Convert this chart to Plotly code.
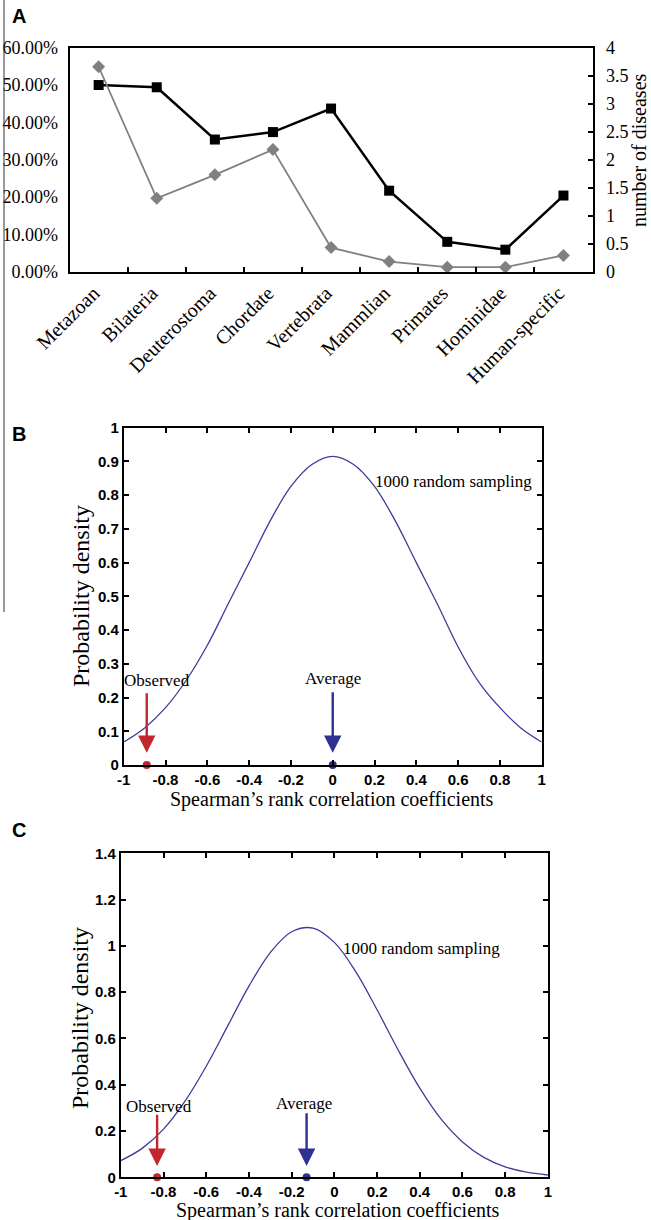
import plotly.graph_objects as go

W, H = 651, 1220

# ---------------- Panel A data ----------------
categories = ["Metazoan", "Bilateria", "Deuterostoma", "Chordate", "Vertebrata",
              "Mammlian", "Primates", "Hominidae", "Human-specific"]
pct_disease_genes = [0.500, 0.494, 0.354, 0.374, 0.437, 0.217, 0.080, 0.059, 0.204]
num_diseases = [3.66, 1.31, 1.73, 2.18, 0.43, 0.18, 0.08, 0.08, 0.29]
pct_ticks = [0, 0.1, 0.2, 0.3, 0.4, 0.5, 0.6]
num_ticks = [0, 0.5, 1, 1.5, 2, 2.5, 3, 3.5, 4]

# ---------------- Panel B / C data ----------------
rho_grid = [-1.0, -0.9, -0.8, -0.7, -0.6, -0.5, -0.4, -0.3, -0.2, -0.1, 0.0,
            0.1, 0.2, 0.3, 0.4, 0.5, 0.6, 0.7, 0.8, 0.9, 1.0]
density_B = [0.068, 0.110, 0.170, 0.252, 0.355, 0.478, 0.600, 0.723, 0.826, 0.891, 0.915,
             0.891, 0.826, 0.723, 0.600, 0.478, 0.350, 0.245, 0.170, 0.110, 0.068]
density_C = [0.072, 0.125, 0.208, 0.328, 0.480, 0.653, 0.826, 0.971, 1.061, 1.077, 1.015,
             0.889, 0.724, 0.548, 0.385, 0.251, 0.153, 0.086, 0.045, 0.022, 0.010]
observed_B, average_B = -0.89, 0.0
observed_C, average_C = -0.83, -0.13
rho_ticks = [-1, -0.8, -0.6, -0.4, -0.2, 0, 0.2, 0.4, 0.6, 0.8, 1]
rho_ticktext = ["-1", "-0.8", "-0.6", "-0.4", "-0.2", "0", "0.2", "0.4", "0.6", "0.8", "1"]
dens_ticks_B = [0, 0.1, 0.2, 0.3, 0.4, 0.5, 0.6, 0.7, 0.8, 0.9, 1]
dens_ticks_C = [0, 0.2, 0.4, 0.6, 0.8, 1, 1.2, 1.4]

RED = "#c1272d"
BLUE = "#2e3192"
CURVE = "#3d3d99"
GRAY = "#808080"
SERIF = "Liberation Serif"
SANS = "Liberation Sans"


def px_x(p):
    return p / W


def px_y(p):
    return 1 - p / H


fig = go.Figure()

# Panel A traces
fig.add_trace(go.Scatter(x=categories, y=num_diseases, xaxis="x", yaxis="y2",
                         mode="lines+markers", line=dict(color=GRAY, width=1.8),
                         marker=dict(symbol="diamond", size=10, color=GRAY),
                         showlegend=False, cliponaxis=False))
fig.add_trace(go.Scatter(x=categories, y=pct_disease_genes, xaxis="x", yaxis="y",
                         mode="lines+markers", line=dict(color="black", width=2.5),
                         marker=dict(symbol="square", size=10, color="black"),
                         showlegend=False, cliponaxis=False))

# Panel B
fig.add_trace(go.Scatter(x=rho_grid, y=density_B, xaxis="x2", yaxis="y3", mode="lines",
                         line=dict(color=CURVE, width=1.3, shape="spline"), showlegend=False))
fig.add_trace(go.Scatter(x=[observed_B, average_B], y=[0, 0], xaxis="x2", yaxis="y3",
                         mode="markers", marker=dict(size=8, color=[RED, BLUE]),
                         showlegend=False, cliponaxis=False))
# Panel C
fig.add_trace(go.Scatter(x=rho_grid, y=density_C, xaxis="x3", yaxis="y4", mode="lines",
                         line=dict(color=CURVE, width=1.3, shape="spline"), showlegend=False))
fig.add_trace(go.Scatter(x=[observed_C, average_C], y=[0, 0], xaxis="x3", yaxis="y4",
                         mode="markers", marker=dict(size=8, color=[RED, BLUE]),
                         showlegend=False, cliponaxis=False))

tickA = dict(family=SERIF, size=18, color="black")
tickAx = dict(family=SERIF, size=20, color="black")
tickBC = dict(family=SANS, size=15, color="black", weight="bold")

box = dict(showline=True, linewidth=2, linecolor="black", showgrid=False, zeroline=False,
           automargin=False)

fig.update_layout(
    template="none",
    width=W, height=H, margin=dict(l=0, r=0, t=0, b=0, autoexpand=False),
    paper_bgcolor="white", plot_bgcolor="white", showlegend=False,
    xaxis=dict(domain=[px_x(69.6), px_x(592.5)], anchor="y", type="category",
               range=[-0.5, 8.5], tickson="boundaries", ticks="inside", ticklen=5,
               tickwidth=1.5, tickcolor="black", tickangle=-45, tickfont=tickAx,
               ticklabelshift=-5, mirror=True, **box),
    yaxis=dict(domain=[px_y(271.7), px_y(47.7)], anchor="x", range=[0, 0.6],
               tickvals=pct_ticks, tickformat=".2%", ticks="", tickfont=tickA,
               ticklabelstandoff=6, **box),
    yaxis2=dict(overlaying="y", side="right", anchor="x", range=[0, 4],
                tickvals=num_ticks, ticks="inside", ticklen=5, tickwidth=1.5,
                tickcolor="black", tickfont=tickA, ticklabelstandoff=8, **box),
    xaxis2=dict(domain=[px_x(123.75), px_x(541.7)], anchor="y3", range=[-1, 1],
                tickvals=rho_ticks, ticktext=rho_ticktext, ticks="inside", ticklen=5,
                tickwidth=1.5, tickcolor="black", tickfont=tickBC, mirror="ticks", **box),
    yaxis3=dict(domain=[px_y(765), px_y(427.7)], anchor="x2", range=[0, 1],
                tickvals=dens_ticks_B, ticks="inside", ticklen=5, tickwidth=1.5,
                tickcolor="black", tickfont=tickBC, mirror="ticks", **box),
    xaxis3=dict(domain=[px_x(120.8), px_x(547.9)], anchor="y4", range=[-1, 1],
                tickvals=rho_ticks, ticktext=rho_ticktext, ticks="inside", ticklen=5,
                tickwidth=1.5, tickcolor="black", tickfont=tickBC, mirror="ticks", **box),
    yaxis4=dict(domain=[px_y(1177.3), px_y(853.3)], anchor="x3", range=[0, 1.4],
                tickvals=dens_ticks_C, ticks="inside", ticklen=5, tickwidth=1.5,
                tickcolor="black", tickfont=tickBC, mirror="ticks", **box),
)

ann = []
# panel letters
for letter, cy in [("A", 16), ("B", 434), ("C", 830)]:
    ann.append(dict(text=letter, x=px_x(19), y=px_y(cy), xref="paper", yref="paper",
                    showarrow=False, xanchor="center", yanchor="middle",
                    font=dict(family=SANS, size=20, color="black", weight="bold")))
# Panel A right axis title
ann.append(dict(text="number of diseases", x=px_x(639), y=px_y(150), xref="paper", yref="paper",
                showarrow=False, textangle=-90, xanchor="center", yanchor="middle",
                font=dict(family=SERIF, size=20, color="black")))
# B/C axis titles
for cx, cy in [(81, 596), (80, 1018)]:
    ann.append(dict(text="Probability density", x=px_x(cx), y=px_y(cy), xref="paper", yref="paper",
                    showarrow=False, textangle=-90, xanchor="center", yanchor="middle",
                    font=dict(family=SERIF, size=24, color="black")))
for cx, cy in [(332, 800), (338, 1210)]:
    ann.append(dict(text="Spearman\u2019s rank correlation coefficients", x=px_x(cx), y=px_y(cy),
                    xref="paper", yref="paper", showarrow=False, xanchor="center", yanchor="middle",
                    font=dict(family=SERIF, size=20, color="black")))

# in-plot labels
lab = dict(family=SERIF, size=17, color="black")
ann += [
    dict(text="1000 random sampling", x=0.58, y=0.84, xref="x2", yref="y3", showarrow=False, font=lab),
    dict(text="Observed", x=observed_B + 0.05, y=0.252, xref="x2", yref="y3", showarrow=False, font=lab),
    dict(text="Average", x=average_B, y=0.255, xref="x2", yref="y3", showarrow=False, font=lab),
    dict(text="1000 random sampling", x=0.41, y=0.99, xref="x3", yref="y4", showarrow=False, font=lab),
    dict(text="Observed", x=observed_C + 0.01, y=0.308, xref="x3", yref="y4", showarrow=False, font=lab),
    dict(text="Average", x=average_C - 0.012, y=0.317, xref="x3", yref="y4", showarrow=False, font=lab),
]
# arrows
for xr, yr, xv, tail, col in [("x2", "y3", observed_B, 0.217, RED), ("x2", "y3", average_B, 0.22, BLUE),
                              ("x3", "y4", observed_C, 0.277, RED), ("x3", "y4", average_C, 0.283, BLUE)]:
    tip = 0.036 if xr == "x2" else 0.035 * 1.4
    ann.append(dict(text="", x=xv, y=tip, ax=xv, ay=tail, xref=xr, yref=yr, axref=xr, ayref=yr,
                    showarrow=True, arrowhead=2, arrowsize=1.45, arrowwidth=2.4, arrowcolor=col,
                    standoff=0, startstandoff=0))

fig.update_layout(annotations=ann)

fig.add_shape(type="line", xref="paper", yref="paper", x0=px_x(4), x1=px_x(4),
              y0=1, y1=px_y(612), line=dict(color="#333333", width=1))

fig.write_html("out.html", config={"displayModeBar": False},
               post_script="document.body.style.margin='0';document.body.style.overflow='hidden';")
